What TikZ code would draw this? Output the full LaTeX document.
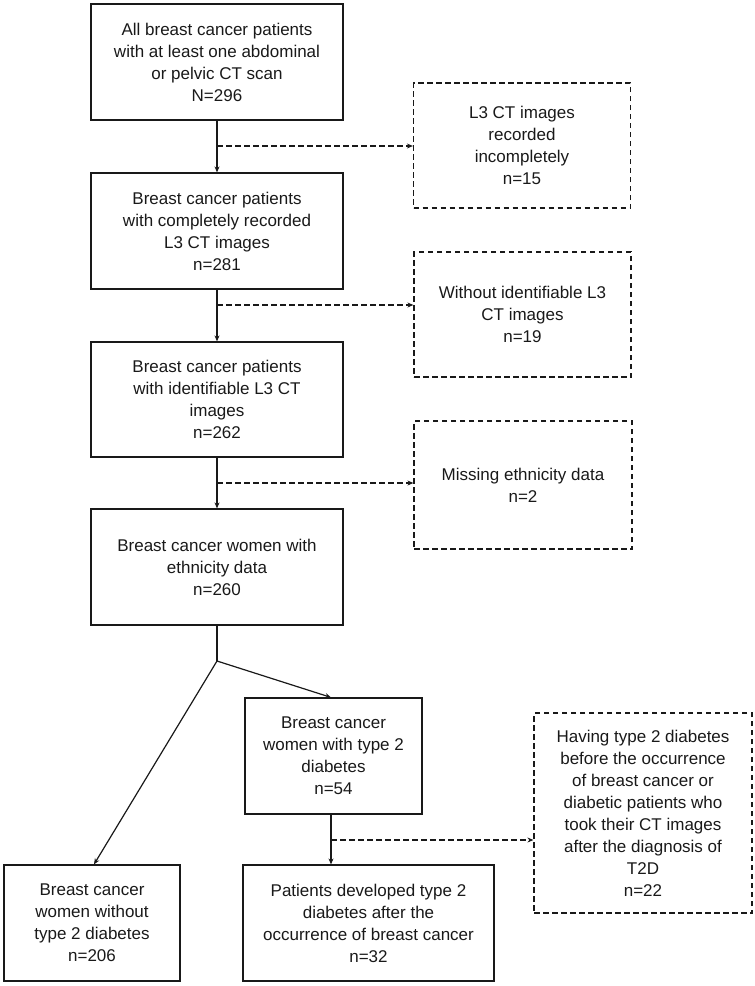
\documentclass[tikz,border=0pt]{standalone}
\usepackage{fontspec}
\setmainfont{Liberation Sans}
\usetikzlibrary{arrows.meta}
\begin{document}
\begin{tikzpicture}[x=1pt,y=-1pt,
  box/.style={draw=black!90, line width=1.2pt, align=center, inner sep=0pt,
    font=\fontsize{17}{22}\selectfont, text=black!90},
  solidbox/.style={box},
  dashbox/.style={box, dash pattern=on 5.5pt off 3.5pt},
  arr/.style={draw=black!90, line width=1.2pt, -{Stealth[length=6pt,width=5pt]}},
  darr/.style={arr, dash pattern=on 5.5pt off 3.5pt}]
\useasboundingbox (0,0) rectangle (755,986);
\node[solidbox, minimum width=252pt, minimum height=116pt] (b1) at (217,62) {All breast cancer patients\\with at least one abdominal\\or pelvic CT scan\\N=296};
\node[solidbox, minimum width=252pt, minimum height=116pt] (b2) at (217,231) {Breast cancer patients\\with completely recorded\\L3 CT images\\n=281};
\node[solidbox, minimum width=252pt, minimum height=115pt] (b3) at (217,399.5) {Breast cancer patients\\with identifiable L3 CT\\images\\n=262};
\node[solidbox, minimum width=252pt, minimum height=116pt] (b4) at (217,567) {Breast cancer women with\\ethnicity data\\n=260};
\node[dashbox, minimum width=217pt, minimum height=125pt] (d1) at (522,145.5) {L3 CT images\\recorded\\incompletely\\n=15};
\node[dashbox, minimum width=217pt, minimum height=125pt] (d2) at (522.5,314.5) {Without identifiable L3\\CT images\\n=19};
\node[dashbox, minimum width=218pt, minimum height=128pt] (d3) at (523,485) {Missing ethnicity data\\n=2};
\node[solidbox, minimum width=177pt, minimum height=116pt] (b5) at (333.5,756) {Breast cancer\\women with type 2\\diabetes\\n=54};
\node[solidbox, minimum width=176pt, minimum height=116pt] (b6) at (92,923) {Breast cancer\\women without\\type 2 diabetes\\n=206};
\node[solidbox, minimum width=251pt, minimum height=116pt] (b7) at (368.5,923) {Patients developed type 2\\diabetes after the\\occurrence of breast cancer\\n=32};
\node[dashbox, minimum width=218pt, minimum height=200pt] (d4) at (643,813) {Having type 2 diabetes\\before the occurrence\\of breast cancer or\\diabetic patients who\\took their CT images\\after the diagnosis of\\T2D\\n=22};
% main axis
\draw[arr] (b1.south) -- (b2.north);
\draw[arr] (b2.south) -- (b3.north);
\draw[arr] (b3.south) -- (b4.north);
\coordinate (j1) at (217,146);
\coordinate (j2) at (217,305);
\coordinate (j3) at (217,483);
\draw[darr] (j1) -- (d1.west |- j1);
\draw[darr] (j2) -- (d2.west |- j2);
\draw[darr] (j3) -- (d3.west |- j3);
% branch
\coordinate (br) at (217,661);
\draw[draw=black!90, line width=1.2pt] (b4.south) -- (br);
\draw[arr] (br) -- ([xshift=2pt]b6.north);
\draw[arr] (br) -- ([xshift=-2.5pt]b5.north);
\coordinate (b5s) at ([xshift=-2.5pt]b5.south);
\draw[arr] (b5s) -- (b5s |- b7.north);
\coordinate (j4) at (331,840);
\draw[darr] (j4) -- (d4.west |- j4);
\end{tikzpicture}
\end{document}
